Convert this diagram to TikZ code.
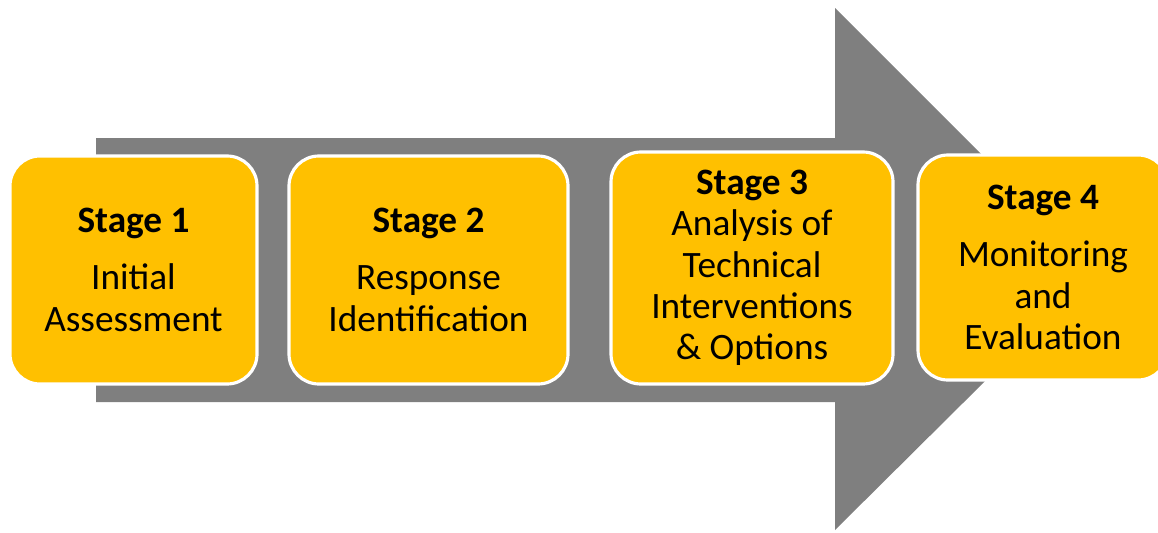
\documentclass[tikz,border=0pt]{standalone}
\usepackage{fontspec}
\setmainfont{Carlito}
\usepackage{tikz}
\usetikzlibrary{positioning}

\definecolor{stagegold}{HTML}{FFC000}
\definecolor{arrowgray}{HTML}{7F7F7F}

\tikzset{
  stagebox/.style={rectangle, rounded corners=0.6cm, fill=stagegold, draw=white,
    line width=1.8pt, align=center, inner sep=2pt,
    font=\fontsize{21.2}{23.5}\selectfont},
}

\begin{document}
\begin{tikzpicture}
      \useasboundingbox (0, 0) rectangle (23.16, 10.64);

      % big arrow behind the stages
      \fill [arrowgray] (1.92, 2.6) -- (1.92, 7.88) -- (16.7, 7.88) -- (16.7, 10.48)
        -- (21.94, 5.24) -- (16.7, 0.04) -- (16.7, 2.6) -- cycle;

      \node [stagebox, minimum width=4.94cm, minimum height=4.56cm] (stage1) at (2.67, 5.24)
        {\textbf{Stage 1}\\[9pt] Initial\\ Assessment};
      \node [stagebox, minimum width=5.58cm, minimum height=4.56cm] (stage2) at (8.57, 5.24)
        {\textbf{Stage 2}\\[9pt] Response\\ Identification};
      \node [stagebox, minimum width=5.64cm, minimum height=4.64cm] (stage3) at (15.04, 5.28)
        {\textbf{Stage 3}\\ Analysis of\\ Technical\\ Interventions\\ \& Options};
      \node [stagebox, minimum width=5.0cm, minimum height=4.5cm] (stage4) at (20.86, 5.29)
        {\textbf{Stage 4}\\[9pt] Monitoring\\ and\\ Evaluation};
    \end{tikzpicture}
\end{document}
